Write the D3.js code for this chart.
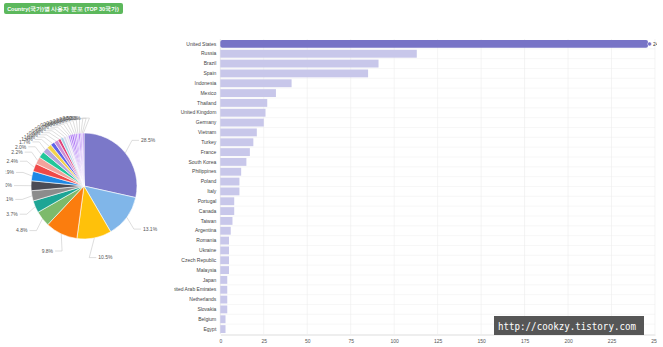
<!DOCTYPE html>
<html><head><meta charset="utf-8">
<script src="https://cdn.jsdelivr.net/npm/d3@7"></script>
<style>
html,body{margin:0;padding:0;background:#fff;overflow:hidden;}
svg{display:block;font-family:"Liberation Sans",Arial,sans-serif;}
</style></head>
<body>
<svg id="chart" width="663" height="347"></svg>
<script>
const title = "Country(국가)별 사용자 분포 (TOP 30국가)";
const categories = ["United States","Russia","Brazil","Spain","Indonesia","Mexico","Thailand","United Kingdom","Germany","Vietnam","Turkey","France","South Korea","Philippines","Poland","Italy","Portugal","Canada","Taiwan","Argentina","Romania","Ukraine","Czech Republic","Malaysia","Japan","United Arab Emirates","Netherlands","Slovakia","Belgium","Egypt"];
const values = [246,113,91,85,41,32,27,26,25,21,19,17,15,12,11,11,8,8,7,6,5,5,5,5,4,4,4,4,3,3];
const xTicks = [0,25,50,75,100,125,150,175,200,225,250];
const pieColors = ["#7b78c9","#80b6e9","#ffc10a","#fb7d0e","#7dba6b","#1ea595","#8c8c8c","#4b4b55","#1e88e5","#f04848","#f3a39c","#22c79a","#b6a7dd","#f3d34a","#5f63e8","#c98fd8","#e0457b","#a7d3e6","#dcd6ec","#e8e4f0","#b38af5","#a66cf0","#9d5cf2","#b07cf5","#a060f0","#c09af7","#9850f0","#a874f3","#b888f6","#9c5ef0"];
const watermark = "http://cookzy.tistory.com";

const svg = d3.select("#chart");
const defs = svg.append("defs");

// Title badge
svg.append("rect").attr("x",4).attr("y",3).attr("width",119).attr("height",11).attr("rx",2).attr("fill","#5cb85c");
svg.append("text").attr("x",63).attr("y",10.6).attr("text-anchor","middle")
  .attr("font-size",5.5).attr("font-weight","bold").attr("fill","#fff").text(title);

// ---------- Pie ----------
const cx = 84, cy = 186, R = 53;
const total = d3.sum(values);
const pie = d3.pie().sort(null).value(d=>d)(values);
const arc = d3.arc().innerRadius(0).outerRadius(R);
defs.append("clipPath").attr("id","pieclip")
  .append("rect").attr("x",5.5).attr("y",0).attr("width",168).attr("height",347);
const pg = svg.append("g").attr("clip-path","url(#pieclip)");
pg.append("g").attr("transform",`translate(${cx},${cy})`)
  .selectAll("path").data(pie).join("path")
  .attr("d",arc).attr("fill",(d,i)=>pieColors[i%pieColors.length])
  .attr("stroke","#fff").attr("stroke-width",0.6);

const deg = Math.PI/180;
const mids = pie.map(d=>(d.startAngle+d.endAngle)/2/deg);
const pcts = values.map(v=>v/total*100);
const la = mids.slice();
for (let i = la.length-1; i >= 0; i--) {
  if (mids[i] < 180) continue;
  if (i === la.length-1) { la[i] = Math.min(mids[i], 357); continue; }
  const sep = pcts[i+1] >= 1.5 ? 5.2 : 2.8;
  la[i] = Math.min(mids[i], la[i+1]-sep);
}
const fmt = d3.format(".1f");
pie.forEach((d,i)=>{
  const m = mids[i]*deg, a = la[i]*deg;
  const left = la[i] > 180;
  const LR = left ? 72 - 4*Math.max(0, Math.cos(a)) : 73;
  const ex = cx + R*Math.sin(m), ey = cy - R*Math.cos(m);
  const lx = cx + LR*Math.sin(a), ly = cy - LR*Math.cos(a);
  const s = left ? 1 : -1;
  pg.append("polyline")
    .attr("points",`${ex},${ey} ${lx+9*s},${ly} ${lx+2*s},${ly}`)
    .attr("fill","none").attr("stroke","#c8c8c8").attr("stroke-width",0.6);
  pg.append("text").attr("x",lx).attr("y",ly).attr("dy","0.35em")
    .attr("text-anchor",left?"end":"start").attr("font-size",5)
    .attr("fill","#555").text(fmt(pcts[i])+"%");
});

// ---------- Bar chart ----------
const x = d3.scaleLinear().domain([0,250]).range([220.3,655]);
const y = d3.scaleBand().domain(categories).range([39,334]).paddingInner(0.2).paddingOuter(0.1);
defs.append("clipPath").attr("id","barclip")
  .append("rect").attr("x",174).attr("y",0).attr("width",483).attr("height",347);
const bg = svg.append("g").attr("clip-path","url(#barclip)");
const step = y.step();
bg.append("g").selectAll("line").data(categories.slice(1)).join("line")
  .attr("x1",220.3).attr("x2",655)
  .attr("y1",d=>y(d)-y.paddingInner()*step/2).attr("y2",d=>y(d)-y.paddingInner()*step/2)
  .attr("stroke","#f2f2f2").attr("stroke-width",0.6);
bg.append("g").selectAll("line").data(xTicks).join("line")
  .attr("x1",d=>x(d)).attr("x2",d=>x(d)).attr("y1",39).attr("y2",334)
  .attr("stroke",(d,i)=>i===0?"#dcdcdc":"#ececec").attr("stroke-width",0.6);
bg.append("g").selectAll("rect").data(values).join("rect")
  .attr("x",x(0)).attr("y",(d,i)=>y(categories[i]))
  .attr("width",d=>x(d)-x(0)).attr("height",y.bandwidth())
  .attr("rx",(d,i)=>i===0?2:0)
  .attr("fill",(d,i)=>i===0?"#7773c6":"#c8c7ea");
bg.append("circle").attr("cx",x(values[0])+1.5).attr("cy",y(categories[0])+y.bandwidth()/2)
  .attr("r",2).attr("fill","#7773c6").attr("stroke","#fff").attr("stroke-width",0.5);
bg.append("text").attr("x",x(values[0])+5).attr("y",y(categories[0])+y.bandwidth()/2)
  .attr("dy","0.35em").attr("font-size",5).attr("fill","#333").text(values[0]);
const yAxis = d3.axisLeft(y).tickSize(0).tickPadding(4);
const ya = bg.append("g").attr("transform",`translate(${x(0)},0)`).call(yAxis);
ya.select(".domain").remove();
ya.selectAll("text").attr("font-size",5).attr("fill","#444").attr("font-family","Liberation Sans, Arial, sans-serif");
const xAxis = d3.axisBottom(x).tickValues(xTicks).tickSize(0).tickPadding(5);
const xa = bg.append("g").attr("transform","translate(0,334.5)").call(xAxis);
xa.select(".domain").attr("stroke","#cfcfcf").attr("stroke-width",0.7);
xa.selectAll("text").attr("font-size",5).attr("fill","#555").attr("font-family","Liberation Sans, Arial, sans-serif");

// watermark
svg.append("rect").attr("x",494).attr("y",316).attr("width",150).attr("height",19).attr("fill","#4d4d4d").attr("opacity",0.95);
svg.append("text").attr("x",498).attr("y",329.5).attr("font-size",10.5)
  .attr("font-family","DejaVu Sans Mono, monospace").attr("fill","#fff")
  .attr("textLength",138).attr("lengthAdjust","spacingAndGlyphs").text(watermark);
</script>
</body></html>
